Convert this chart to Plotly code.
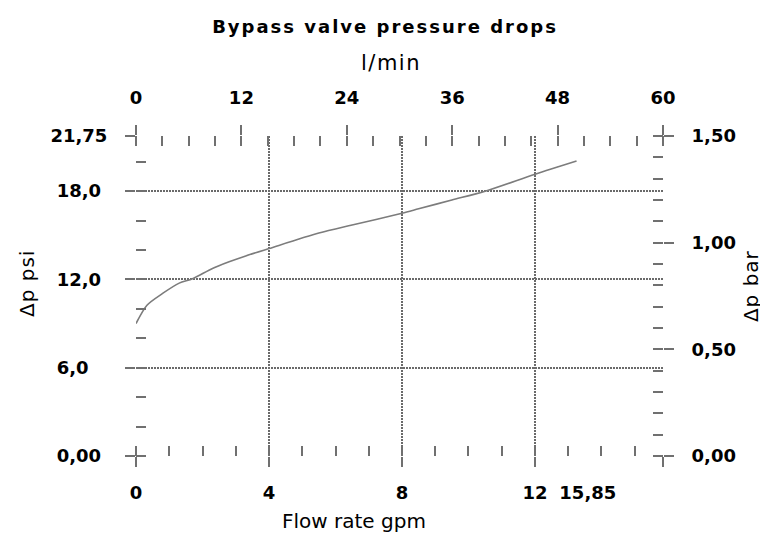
import plotly.graph_objects as go

# ---------------- data ----------------
flow_gpm = [0, 0.33, 0.8, 1.3, 1.7, 2.3, 2.8, 3.3, 4.0, 5.5, 6.5, 8.0, 8.5, 9.5, 10.5, 12.0, 13.25]
dp_psi = [9.0, 10.25, 11.05, 11.75, 12.05, 12.75, 13.2, 13.6, 14.1, 15.15, 15.7, 16.5, 16.8, 17.4, 18.0, 19.15, 20.05]

gpm_ticks = [0, 4, 8, 12, 15.85]
gpm_labels = ["0", "4", "8", "12", "15,85"]
lpm_ticks = [0, 12, 24, 36, 48, 60]
lpm_labels = ["0", "12", "24", "36", "48", "60"]
psi_ticks = [0, 6, 12, 18, 21.75]
psi_labels = ["0,00", "6,0", "12,0", "18,0", "21,75"]
bar_ticks = [0, 0.5, 1.0, 1.5]
bar_labels = ["0,00", "0,50", "1,00", "1,50"]

GPM_MAX, LPM_MAX = 15.85, 60.0
PSI_MAX, BAR_MAX = 21.75, 1.5

# unit conversions for the secondary (overlaid) axes
flow_lpm = [g * LPM_MAX / GPM_MAX for g in flow_gpm]
dp_bar = [p * BAR_MAX / PSI_MAX for p in dp_psi]

# ---------------- styling ----------------
GRID = "#6a6a6a"
TICK = "#707070"
LABEL_FONT = dict(family="DejaVu Sans", size=18, color="black", weight="bold")
TITLE_FONT = dict(family="DejaVu Sans", size=20, color="black")

NB = "\u00a0"
FS = "\u2007"
# padding to mimic left-aligned labels of the reference
psi_text = [psi_labels[0] + NB, psi_labels[1] + FS + NB, psi_labels[2] + NB, psi_labels[3] + NB, psi_labels[4]]
gpm_text = gpm_labels[:-1] + [gpm_labels[-1] + NB * 24]

fig = go.Figure()
fig.add_trace(go.Scatter(x=flow_gpm, y=dp_psi, mode="lines",
                         line=dict(color="#7c7c7c", width=1.6, shape="spline", smoothing=0.8),
                         xaxis="x", yaxis="y", showlegend=False, hoverinfo="skip"))
# invisible traces carrying the secondary axes
fig.add_trace(go.Scatter(x=flow_lpm, y=dp_bar, mode="lines", line=dict(width=0, color="rgba(0,0,0,0)"),
                         xaxis="x2", yaxis="y2", showlegend=False, hoverinfo="skip"))
fig.add_trace(go.Scatter(x=flow_lpm, y=dp_bar, mode="lines", line=dict(width=0, color="rgba(0,0,0,0)"),
                         xaxis="x3", yaxis="y3", showlegend=False, hoverinfo="skip"))

common = dict(showline=False, zeroline=False, tickcolor=TICK, tickwidth=1.5,
              tickfont=LABEL_FONT, ticklabeloverflow="allow")
GRID_STYLE = dict(showgrid=True, gridcolor=GRID, griddash="2px,1px", gridwidth=1.6)

# the page adds an 8px body margin, so the figure is 760x528 to fill the 768x536 window
fig.update_layout(
    width=760, height=528,
    margin=dict(l=128, r=105, t=128, b=80, autoexpand=False),
    paper_bgcolor="white", plot_bgcolor="white",
    xaxis=dict(range=[0, GPM_MAX], tickmode="array", tickvals=gpm_ticks, ticktext=gpm_text,
               ticks="outside", ticklen=10, tickangle=0, ticklabelstandoff=10,
               minor=dict(tickmode="linear", tick0=0, dtick=1, ticks="inside", ticklen=10,
                          tickcolor=TICK, tickwidth=1.5, showgrid=False),
               anchor="y", **GRID_STYLE, **common),
    yaxis=dict(range=[0, PSI_MAX], tickmode="array", tickvals=psi_ticks, ticktext=psi_text,
               ticks="outside", ticklen=10, ticklabelstandoff=14,
               minor=dict(tickmode="linear", tick0=0, dtick=2, ticks="inside", ticklen=10,
                          tickcolor=TICK, tickwidth=1.5, showgrid=False),
               anchor="x", **GRID_STYLE, **common),
    xaxis2=dict(range=[0, LPM_MAX], tickmode="array", tickvals=lpm_ticks, ticktext=lpm_labels,
                side="top", overlaying="x", anchor="y2",
                ticks="outside", ticklen=10, tickangle=0, ticklabelstandoff=14, showgrid=False,
                minor=dict(tickmode="linear", tick0=0, dtick=3, ticks="inside", ticklen=10,
                           tickcolor=TICK, tickwidth=1.5, showgrid=False),
                **common),
    yaxis2=dict(range=[0, BAR_MAX], tickmode="array", tickvals=bar_ticks, ticktext=bar_labels,
                side="right", overlaying="y", anchor="x2",
                ticks="outside", ticklen=10, ticklabelstandoff=14, showgrid=False,
                minor=dict(tickmode="linear", tick0=0, dtick=0.1, ticks="inside", ticklen=10,
                           tickcolor=TICK, tickwidth=1.5, showgrid=False),
                **common),
    # inner halves of the crossing major ticks (top and right)
    xaxis3=dict(range=[0, LPM_MAX], tickmode="array", tickvals=lpm_ticks[1:-1], side="top",
                overlaying="x", anchor="y3", ticks="inside", ticklen=10, showticklabels=False,
                showgrid=False, showline=False, zeroline=False, tickcolor=TICK, tickwidth=1.5),
    yaxis3=dict(range=[0, BAR_MAX], tickmode="array", tickvals=bar_ticks[1:-1], side="right",
                overlaying="y", anchor="x3", ticks="inside", ticklen=10, showticklabels=False,
                showgrid=False, showline=False, zeroline=False, tickcolor=TICK, tickwidth=1.5),
    title=dict(text='<span style="letter-spacing:2px">Bypass valve pressure drops</span>',
               font=dict(family="DejaVu Sans", size=18, color="black", weight="bold"),
               xref="paper", x=0.4725, xanchor="center", yref="container", y=1 - 19 / 528,
               yanchor="middle"),
    showlegend=False,
)

fig.add_annotation(text='<span style="letter-spacing:1.5px">l/min</span>', xref="paper", yref="paper",
                   x=0.484, y=1.228, showarrow=False, font=dict(TITLE_FONT, size=21),
                   xanchor="center", yanchor="middle")
fig.add_annotation(text="Flow rate gpm", xref="paper", yref="paper",
                   x=0.4137, y=-0.203, showarrow=False, font=TITLE_FONT, xanchor="center", yanchor="middle")
fig.add_annotation(text='<span style="letter-spacing:1px">Δp psi</span>', xref="paper", yref="paper",
                   x=-0.2068, y=0.5375, showarrow=False, font=TITLE_FONT, textangle=-90,
                   xanchor="center", yanchor="middle")
fig.add_annotation(text='<span style="letter-spacing:1px">Δp bar</span>', xref="paper", yref="paper",
                   x=1.167, y=0.531, showarrow=False, font=TITLE_FONT, textangle=-90,
                   xanchor="center", yanchor="middle")

fig.write_html("out.html")
